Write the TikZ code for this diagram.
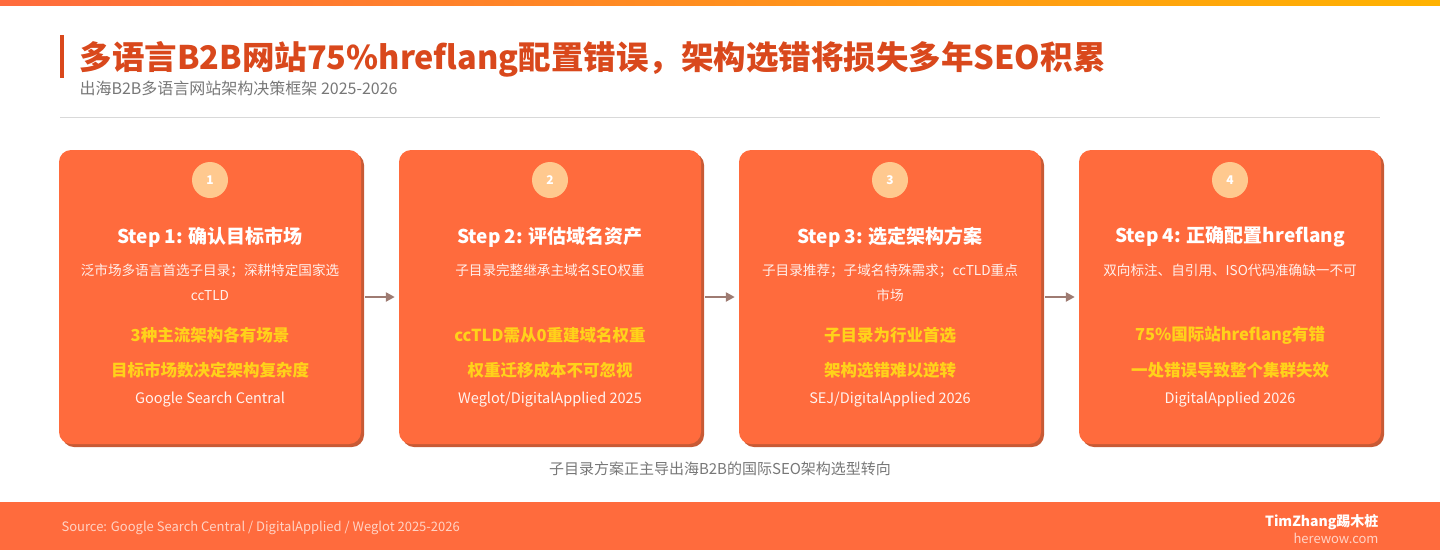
\documentclass[tikz,border=0pt]{standalone}
\usepackage{fontspec}
\setmainfont{Noto Sans CJK SC}
\usetikzlibrary{positioning,shadings,arrows.meta}
\definecolor{cardc}{HTML}{FF6B3D}
\definecolor{shadc}{HTML}{C85A35}
\definecolor{badgec}{HTML}{FFC98F}
\definecolor{goldc}{HTML}{FFD21A}
\definecolor{titlec}{HTML}{D9481C}
\definecolor{arrc}{HTML}{9E7B72}
\definecolor{greyc}{HTML}{777777}
\tikzset{
  card/.style={fill=cardc, rounded corners=12pt, minimum width=302pt, minimum height=294pt, inner sep=0pt},
  cardshadow/.style={fill=shadc, rounded corners=12pt, minimum width=302pt, minimum height=294pt, inner sep=0pt},
  badge/.style={circle, fill=badgec, minimum size=36pt, inner sep=0pt, text=white, font=\bfseries\fontsize{12}{12}\selectfont},
  steptitle/.style={text=white, font=\bfseries\fontsize{19}{19}\selectfont},
  desc/.style={text=white!90!cardc, align=center, font=\fontsize{13.6}{25}\selectfont},
  hilite/.style={text=goldc, font=\bfseries\fontsize{16.5}{16.5}\selectfont},
  src/.style={text=white!92!cardc, font=\fontsize{14.5}{14.5}\selectfont},
  flow/.style={-{Triangle[length=9pt,width=9pt]}, line width=2.5pt, draw=arrc}
}
\begin{document}
\begin{tikzpicture}[x=1pt,y=-1pt]
\useasboundingbox (0,0) rectangle (1440,550);
\shade[left color=cardc, right color=orange!60!yellow] (0,0) rectangle (1440,5);
\fill[titlec] (60,35) rectangle (64,78);
\node (title) [anchor=west, text=titlec, font=\bfseries\fontsize{32.5}{32.5}\selectfont] at (76,59) {多语言B2B网站75\%hreflang配置错误，架构选错将损失多年SEO积累};
\node (subtitle) [anchor=west, text=greyc, font=\fontsize{16}{16}\selectfont] at (76,88) {出海B2B多语言网站架构决策框架 2025-2026};
\draw[black!15] (60,117) -- (1380,117);
% cards
\foreach \i/\cx/\ttl/\dsc/\ha/\hb/\srcs in {
 1/210/{Step 1: 确认目标市场}/{泛市场多语言首选子目录；深耕特定国家选\\ccTLD}/{3种主流架构各有场景}/{目标市场数决定架构复杂度}/{Google Search Central},
 2/550/{Step 2: 评估域名资产}/{子目录完整继承主域名SEO权重}/{ccTLD需从0重建域名权重}/{权重迁移成本不可忽视}/{Weglot/DigitalApplied 2025},
 3/890/{Step 3: 选定架构方案}/{子目录推荐；子域名特殊需求；ccTLD重点\\市场}/{子目录为行业首选}/{架构选错难以逆转}/{SEJ/DigitalApplied 2026},
 4/1230/{Step 4: 正确配置hreflang}/{双向标注、自引用、ISO代码准确缺一不可}/{75\%国际站hreflang有错}/{一处错误导致整个集群失效}/{DigitalApplied 2026}}{
  \node [cardshadow] at (\cx+3,300) {};
  \node (card\i) [card] at (\cx,297) {};
  \node (badge\i) [badge] at (\cx,180) {\i};
  \node (ttl\i) [steptitle] at (\cx,237) {\ttl};
  \node (dsc\i) [desc, anchor=north] at (\cx,260) {\dsc};
  \node (ha\i) [hilite] at (\cx,335) {\ha};
  \node (hb\i) [hilite] at (\cx,370) {\hb};
  \node (src\i) [src] at (\cx,400) {\srcs};
}
\draw [flow] ([xshift=4pt]card1.east) -- ([xshift=-4pt]card2.west);
\draw [flow] ([xshift=4pt]card2.east) -- ([xshift=-4pt]card3.west);
\draw [flow] ([xshift=4pt]card3.east) -- ([xshift=-4pt]card4.west);
\node (caption) [text=greyc, font=\fontsize{15}{15}\selectfont] at (720,469) {子目录方案正主导出海B2B的国际SEO架构选型转向};
% footer
\fill[cardc] (0,502) rectangle (1440,550);
\node (source) [anchor=west, text=white!70!cardc, font=\fontsize{13}{13}\selectfont] at (58,528) {Source: Google Search Central / DigitalApplied / Weglot 2025-2026};
\node (brand) [anchor=east, text=white, font=\bfseries\fontsize{14}{14}\selectfont] at (1382,522) {TimZhang踢木桩};
\node (site) [anchor=east, text=white!70!cardc, font=\fontsize{13}{13}\selectfont] at (1382,538) {herewow.com};
\end{tikzpicture}
\end{document}
